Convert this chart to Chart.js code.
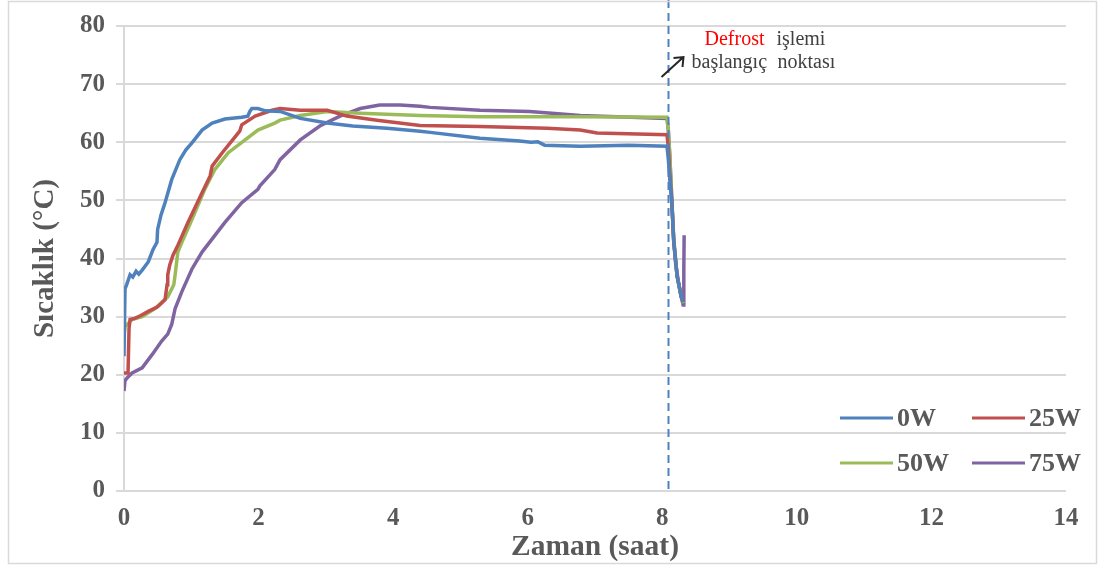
<!DOCTYPE html>
<html>
<head>
<meta charset="utf-8">
<script src="https://cdn.jsdelivr.net/npm/chart.js@4"></script>
<style>
  html, body { margin: 0; padding: 0; background: #fff; }
  #wrap { width: 1105px; height: 568px; position: relative; }
</style>
</head>
<body>
<div id="wrap"><canvas id="tempChart"></canvas></div>
<script>
// time (saat) and temperature (°C) for each heater power
const labels = ["0W", "25W", "50W", "75W"];
const colors = ["#4F81BD", "#C0504D", "#9BBB59", "#8064A2"];

const t0W = [0, 0.015, 0.04, 0.09, 0.13, 0.18, 0.22, 0.27, 0.36, 0.43, 0.49, 0.5, 0.55, 0.61, 0.71, 0.83, 0.92, 1.01, 1.16, 1.31, 1.5, 1.75, 1.84, 1.87, 1.9, 1.99, 2.1, 2.32, 2.62, 3.02, 3.4, 3.91, 4.4, 4.55, 5.29, 5.88, 6.05, 6.15, 6.25, 6.78, 7.5, 8.07, 8.09, 8.11, 8.14, 8.17, 8.22, 8.28, 8.31];
const v0W = [23.2, 34.8, 35.5, 37.2, 36.8, 37.8, 37.3, 38, 39.4, 41.5, 42.8, 45, 47.5, 49.6, 53.6, 57, 58.7, 59.9, 62.1, 63.3, 64, 64.3, 64.5, 65.3, 65.8, 65.8, 65.4, 65.3, 64.1, 63.3, 62.8, 62.4, 61.9, 61.7, 60.7, 60.2, 60, 60.1, 59.5, 59.3, 59.5, 59.3, 57, 54, 50, 43, 37, 33.5, 32.5];

const t25W = [0, 0.06, 0.075, 0.09, 0.16, 0.25, 0.36, 0.5, 0.61, 0.64, 0.65, 0.68, 0.73, 0.79, 0.95, 1.16, 1.28, 1.31, 1.46, 1.6, 1.72, 1.75, 1.95, 2.2, 2.32, 2.62, 3.02, 3.31, 3.76, 4.4, 5.29, 6.29, 6.78, 7.03, 8.07, 8.09, 8.11, 8.14, 8.17, 8.22, 8.28, 8.31];
const v25W = [20.3, 20.3, 28, 29.5, 29.7, 30.2, 30.9, 31.7, 32.9, 35.5, 37.2, 38.9, 40.6, 42, 46.2, 51.3, 54.2, 55.9, 58.2, 60.2, 61.9, 63, 64.5, 65.5, 65.8, 65.5, 65.5, 64.5, 63.8, 62.9, 62.7, 62.4, 62.1, 61.6, 61.3, 59, 55, 50, 43, 37, 33.5, 32.5];

const t50W = [0, 0.015, 0.12, 0.27, 0.46, 0.65, 0.74, 0.76, 0.8, 0.86, 1.01, 1.2, 1.35, 1.55, 1.8, 1.99, 2.24, 2.32, 2.62, 3.02, 3.51, 4.4, 5.29, 6.78, 8.07, 8.09, 8.11, 8.14, 8.17, 8.22, 8.28, 8.31];
const v50W = [26.6, 28.3, 29.5, 30, 31.4, 33.4, 35.5, 37.2, 41.1, 42.8, 46.7, 51.9, 55.3, 58.2, 60.4, 62.1, 63.3, 63.8, 64.6, 65.3, 65, 64.6, 64.4, 64.4, 64.3, 62, 58, 50.5, 43.5, 37, 33.5, 32.3];

const t75W = [0, 0.015, 0.05, 0.12, 0.27, 0.42, 0.56, 0.65, 0.71, 0.76, 0.86, 1.01, 1.16, 1.5, 1.75, 1.99, 2.02, 2.24, 2.32, 2.62, 2.91, 3.21, 3.51, 3.8, 4.1, 4.4, 4.55, 5.29, 6.03, 6.78, 8.07, 8.09, 8.11, 8.13, 8.15, 8.17, 8.2, 8.24, 8.28, 8.31, 8.32, 8.325];
const v75W = [17.2, 19, 19.5, 20.3, 21.2, 23.5, 25.8, 27, 28.7, 31.4, 34.3, 38.2, 41.1, 46.2, 49.6, 51.9, 52.5, 55.3, 57, 60.4, 62.8, 64.5, 65.8, 66.4, 66.4, 66.2, 66, 65.5, 65.3, 64.6, 64.1, 62, 58, 53, 48, 43, 39, 36, 33.5, 32, 38, 44];

const xTicks = [0, 2, 4, 6, 8, 10, 12, 14];
const yTicks = [0, 10, 20, 30, 40, 50, 60, 70, 80];
const defrostStart = 8.08;

const series = [[t0W, v0W], [t25W, v25W], [t50W, v50W], [t75W, v75W]];
const SERIF = "'Liberation Serif', 'Times New Roman', serif";
const GREY = "#595959";

const extras = {
  id: "extras",
  afterDatasetsDraw(chart) {
    const { ctx, chartArea, scales } = chart;
    const xs = scales.x;
    ctx.save();

    // dashed marker where defrost begins
    const dx = Math.round(xs.getPixelForValue(defrostStart)) + 0.5;
    ctx.strokeStyle = "#4F81BD";
    ctx.lineWidth = 2;
    ctx.setLineDash([8, 5]);
    ctx.beginPath();
    ctx.moveTo(dx, 0);
    ctx.lineTo(dx, chartArea.bottom);
    ctx.stroke();
    ctx.setLineDash([]);

    // arrow + note
    ctx.strokeStyle = "#262626";
    ctx.lineWidth = 2;
    const ax0 = dx - 7, ay0 = 77, ax1 = dx + 15, ay1 = 57;
    ctx.beginPath();
    ctx.moveTo(ax0, ay0);
    ctx.lineTo(ax1, ay1);
    ctx.moveTo(ax1 - 10, ay1 + 1);
    ctx.lineTo(ax1, ay1);
    ctx.lineTo(ax1 - 1, ay1 + 10);
    ctx.stroke();

    ctx.font = "20px " + SERIF;
    ctx.textBaseline = "middle";
    ctx.textAlign = "left";
    ctx.fillStyle = "#FF0000";
    ctx.fillText("Defrost", dx + 36, 40);
    ctx.fillStyle = "#404040";
    ctx.fillText("işlemi", dx + 108, 40);
    ctx.fillText("başlangıç", dx + 23, 63);
    ctx.fillText("noktası", dx + 109, 63);

    // legend, 2x2 in the lower right of the plot
    const pos = [[840, 418], [972, 418], [840, 463], [972, 463]];
    ctx.font = "bold 26px " + SERIF;
    chart.data.datasets.forEach((ds, i) => {
      const [lx, ly] = pos[i];
      ctx.strokeStyle = ds.borderColor;
      ctx.lineWidth = 3;
      ctx.beginPath();
      ctx.moveTo(lx, ly);
      ctx.lineTo(lx + 53, ly);
      ctx.stroke();
      ctx.fillStyle = GREY;
      ctx.fillText(ds.label, lx + 57, ly + 1);
    });
    ctx.restore();
  },
  afterDraw(chart) {
    const { ctx } = chart;
    ctx.save();
    ctx.strokeStyle = "#D9D9D9";
    ctx.lineWidth = 1.5;
    ctx.strokeRect(8.5, 1.5, 1088, 562);
    ctx.restore();
  }
};

new Chart(document.getElementById("tempChart"), {
  type: "line",
  data: {
    datasets: series.map(([t, v], i) => ({
      label: labels[i],
      data: t.map((x, k) => ({ x: x, y: v[k] })),
      borderColor: colors[i],
      backgroundColor: colors[i],
      borderWidth: 3.5,
      pointRadius: 0,
      tension: 0,
      fill: false
    }))
  },
  options: {
    responsive: true,
    maintainAspectRatio: false,
    animation: false,
    layout: { padding: { top: 23, right: 39, left: 20, bottom: 0 } },
    plugins: { legend: { display: false }, tooltip: { enabled: false } },
    scales: {
      x: {
        type: "linear",
        min: 0,
        max: 14,
        afterFit(s) { s.height = 77; },
        afterBuildTicks(s) { s.ticks = xTicks.map(v => ({ value: v })); },
        grid: { display: false },
        border: { display: false },
        ticks: {
          padding: 5,
          color: GREY,
          font: { family: SERIF, size: 25, weight: "bold" }
        },
        title: {
          display: true,
          text: "Zaman (saat)",
          color: GREY,
          padding: { top: 0, bottom: 3 },
          font: { family: SERIF, size: 29.5, weight: "bold" }
        }
      },
      y: {
        min: 0,
        max: 80,
        afterFit(s) { s.width = 104; },
        afterBuildTicks(s) { s.ticks = yTicks.map(v => ({ value: v })); },
        grid: { color: "#D9D9D9", lineWidth: 2, tickLength: 8 },
        border: { display: true, color: "#D9D9D9", width: 2 },
        ticks: {
          padding: 11,
          color: GREY,
          font: { family: SERIF, size: 25, weight: "bold" }
        },
        title: {
          display: true,
          text: "Sıcaklık (°C)",
          color: GREY,
          padding: { top: 8, bottom: 0 },
          font: { family: SERIF, size: 29, weight: "bold" }
        }
      }
    }
  },
  plugins: [extras]
});
</script>
</body>
</html>
